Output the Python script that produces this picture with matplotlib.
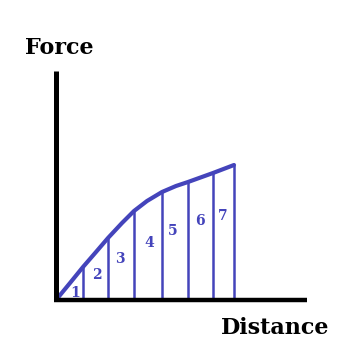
import numpy as np
import matplotlib.pyplot as plt

# curve (distance, force)
dist = [0, 14, 27, 40, 52, 66, 78, 91, 106, 120, 132, 157, 178]
force = [0, 17, 33, 48, 62, 77, 89, 99, 108, 114, 118, 127, 135]

# strip edges and their heights
strip_x = [27, 52, 78, 106, 132, 157, 178]
strip_top = [33, 62, 89, 108, 118, 127, 135]
labels = ['1', '2', '3', '4', '5', '6', '7']
label_x = [19, 41, 64, 93, 117, 144, 167]
label_y = [7, 25, 41, 57, 69, 79, 84]

blue = '#4444bb'

fig = plt.figure(figsize=(3.5, 3.59), dpi=100)
ax = fig.add_axes([0, 0, 1, 1])
ax.set_xlim(-56, 294)
ax.set_ylim(-59, 300)

ax.plot(dist, force, color=blue, lw=3, solid_capstyle='round',
        solid_joinstyle='round', zorder=3)
ax.vlines(strip_x, 0, strip_top, color=blue, lw=1.8, zorder=2)

for x, y, lab in zip(label_x, label_y, labels):
    ax.text(x, y, lab, color=blue, fontsize=10, fontweight='bold',
            family='DejaVu Serif', ha='center', va='center')

# axes
ax.plot([0, 0], [0, 229], color='black', lw=3.6, solid_capstyle='butt', zorder=4)
ax.plot([-2, 251], [0, 0], color='black', lw=3.2, solid_capstyle='butt', zorder=4)

ax.text(3, 252, 'Force', fontsize=16, fontweight='bold', family='DejaVu Serif',
        ha='center', va='center')
ax.text(219, -28, 'Distance', fontsize=16, fontweight='bold', family='DejaVu Serif',
        ha='center', va='center')

ax.axis('off')
plt.savefig('out.png', dpi=100)
